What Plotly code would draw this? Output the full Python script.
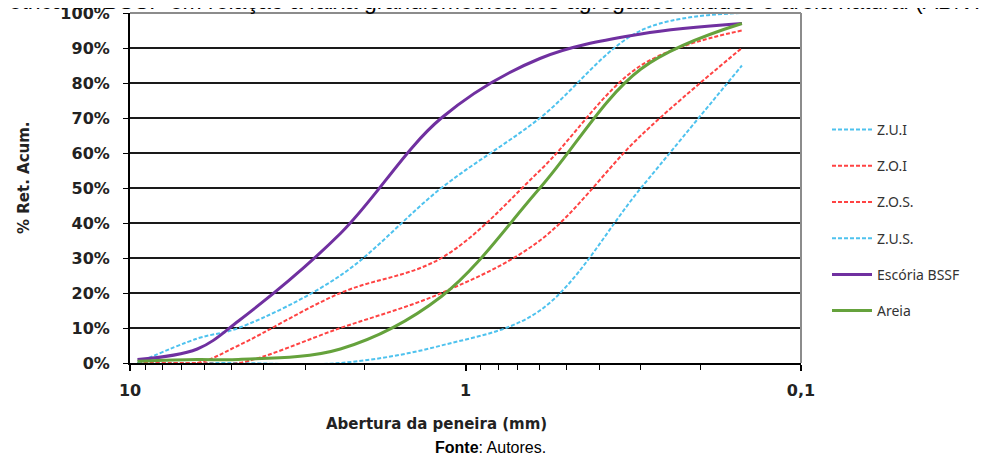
import plotly.graph_objects as go

# Sieve openings (mm) and cumulative % retained
sieves = [9.5, 6.3, 4.75, 2.36, 1.18, 0.6, 0.3, 0.15]
zui = [0, 0, 0, 0, 5, 15, 50, 85]
zoi = [0, 0, 0, 10, 20, 35, 65, 90]
zos = [0, 0, 5, 20, 30, 55, 85, 95]
zus = [0, 7, 10, 25, 50, 70, 95, 100]
escoria = [1, 4, 12, 37, 70, 87, 94, 97]
areia = [0.5, 1, 1, 4, 19, 50, 84, 97]

x_tickvals = [10, 1, 0.1]
x_ticktext = ["10", "1", "0,1"]
x_minor = [9, 8, 7, 6, 5, 4, 3, 2, 0.9, 0.8, 0.7, 0.6, 0.5, 0.4, 0.3, 0.2]
y_tickvals = [0, 0.1, 0.2, 0.3, 0.4, 0.5, 0.6, 0.7, 0.8, 0.9, 1.0]

CYAN = "#4EC2EE"
RED = "#FF4343"
PURPLE = "#7030A0"
GREEN = "#65A23C"

series = [
    ("Z.U.I", zui, CYAN, "4px,2px", 2),
    ("Z.O.I", zoi, RED, "4px,2px", 2),
    ("Z.O.S.", zos, RED, "4px,2px", 2),
    ("Z.U.S.", zus, CYAN, "4px,2px", 2),
    ("Escória BSSF", escoria, PURPLE, "solid", 3),
    ("Areia", areia, GREEN, "solid", 3),
]

fig = go.Figure()
for i, (name, vals, color, dash, w) in enumerate(series):
    fig.add_trace(go.Scatter(
        x=sieves, y=[v / 100 for v in vals], name=name, mode="lines",
        line=dict(color=color, dash=dash, width=w, shape="spline", smoothing=1),
        legendgroup="g%d" % i,
    ))

# page body has an 8px default margin: work in screen pixels, convert to figure
OFF = 8
W, H = 987 - OFF, 461 - OFF
SL, ST, SR, SB = 130, 13, 801, 363          # plot box in screen pixels
L, T = SL - OFF, ST - OFF
PW, PH = SR - SL, SB - ST


def px(xs):
    return (xs - SL) / PW


def py(ys):
    return (SB - ys) / PH


fig.update_layout(
    width=W, height=H,
    margin=dict(l=L, r=W - L - PW, t=T, b=H - T - PH, autoexpand=False),
    paper_bgcolor="white", plot_bgcolor="white",
    font=dict(family="DejaVu Sans", color="#222222"),
    showlegend=True,
    legend=dict(
        x=px(827), y=py(114), xanchor="left", yanchor="top",
        font=dict(family="Noto Sans", size=14, color="#333333"),
        tracegroupgap=15, itemwidth=40, bgcolor="rgba(0,0,0,0)",
    ),
    xaxis=dict(
        type="log", range=[1, -1], automargin=False,
        tickvals=x_tickvals, ticktext=x_ticktext,
        ticks="outside", ticklen=6, tickwidth=1.5, tickcolor="black",
        minor=dict(tickvals=x_minor, ticks="outside", ticklen=5, tickwidth=1, tickcolor="black", showgrid=False),
        showgrid=False, showline=True, linecolor="black", linewidth=2,
        tickfont=dict(family="DejaVu Sans", size=16, weight="bold", color="#222222"),
        ticklabelstandoff=6, ticklabeloverflow="allow",
        zeroline=False,
    ),
    yaxis=dict(
        range=[0, 1], tickvals=y_tickvals, tickformat=".0%", automargin=False,
        ticks="outside", ticklen=5, tickcolor="black",
        showgrid=True, gridcolor="#1a1a1a", gridwidth=2,
        showline=True, linecolor="black", linewidth=2,
        tickfont=dict(family="DejaVu Sans", size=16, weight="bold", color="#222222"),
        ticklabelstandoff=10, ticklabeloverflow="allow",
        zeroline=False,
    ),
    shapes=[
        dict(type="line", xref="paper", yref="paper", x0=0, x1=1, y0=1, y1=1,
             line=dict(color="#8c8c8c", width=2), layer="above"),
        dict(type="line", xref="paper", yref="paper", x0=1, x1=1, y0=0, y1=1,
             line=dict(color="#8c8c8c", width=2), layer="above"),
    ],
    annotations=[
        dict(text="% Ret. Acum.", xref="paper", yref="paper",
             x=px(24), y=py(178), textangle=-90,
             showarrow=False, xanchor="center", yanchor="middle",
             font=dict(family="DejaVu Sans", size=15, weight="bold", color="#222222")),
        dict(text="Abertura da peneira (mm)", xref="paper", yref="paper",
             x=px(436), y=py(424),
             showarrow=False, xanchor="center", yanchor="middle",
             font=dict(family="DejaVu Sans", size=15, weight="bold", color="#222222")),
        dict(text="<b>Fonte</b>: Autores.", xref="paper", yref="paper",
             x=px(490), y=py(447),
             showarrow=False, xanchor="center", yanchor="middle",
             font=dict(family="Liberation Sans", size=16, color="#000000")),
        dict(text="Curva granulométrica da BSSF em relação à faixa granulométrica dos agregados miúdos e areia natural (ABNT NBR 7211)",
             xref="paper", yref="paper",
             x=px(-157), y=py(1),
             showarrow=False, xanchor="left", yanchor="middle",
             font=dict(family="Liberation Sans", size=23, color="#000000")),
    ],
)

fig.write_html("out.html")
